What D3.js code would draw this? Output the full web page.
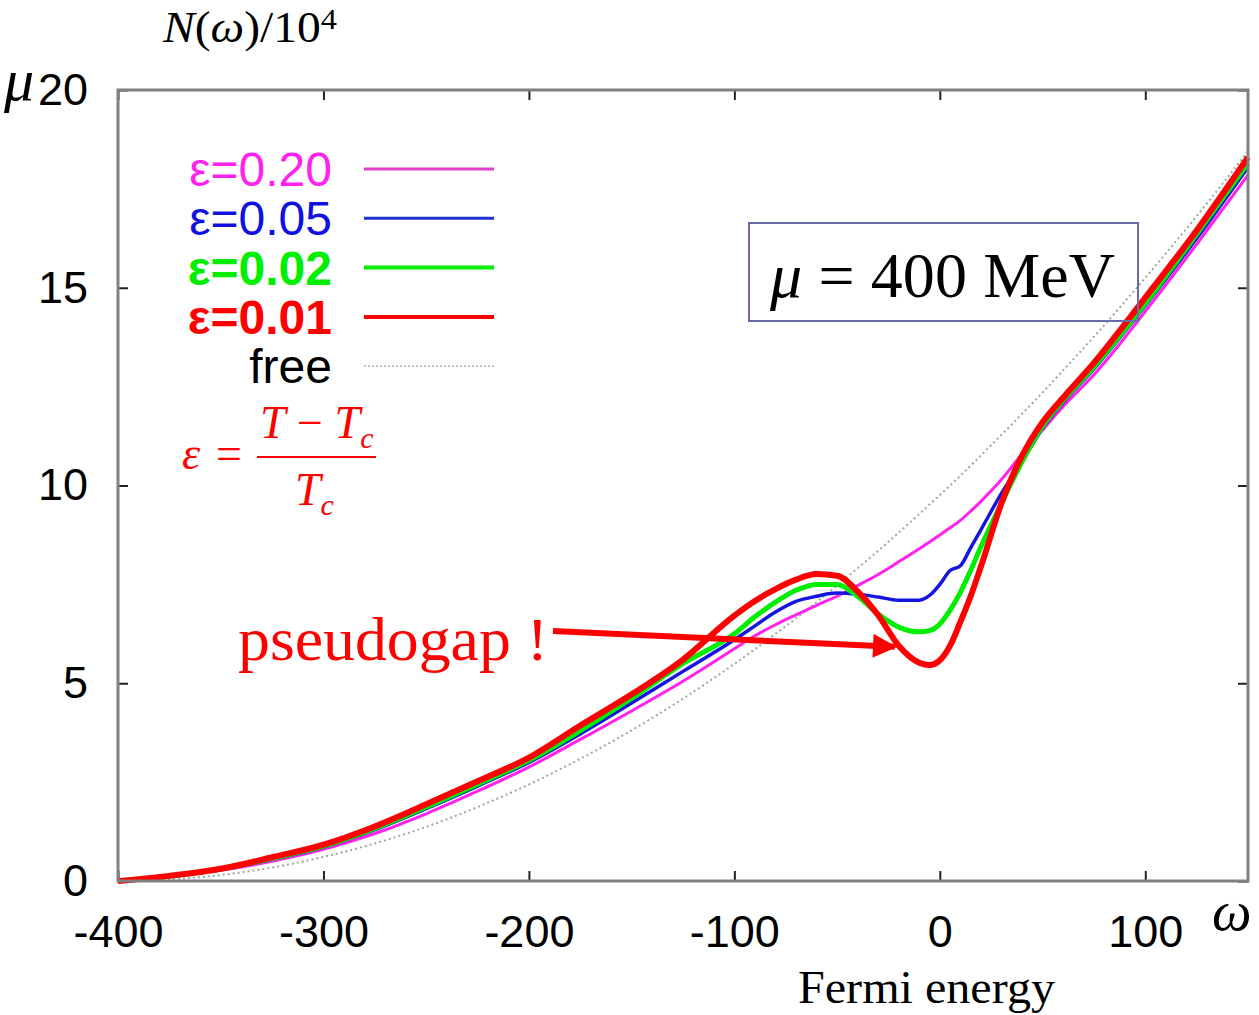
<!DOCTYPE html>
<html>
<head>
<meta charset="utf-8">
<script src="https://cdn.jsdelivr.net/npm/d3@7"></script>
<style>
  body { margin: 0; background: #fff; }
  .tick text { font-family: "Liberation Sans", Arial, sans-serif; font-size: 45px; fill: #000; }
  .serif { font-family: "Liberation Serif", "Times New Roman", serif; }
</style>
</head>
<body>
<div id="chart"></div>
<script>
// Density of states N(omega)/10^4 at mu = 400 MeV

var omega = [-400, -375, -350, -325, -300, -275, -250, -225, -200, -175, -150, -125,
  -100, -90, -80, -70, -60, -50, -40, -30, -20, -10, -5, 0,
  5, 10, 15, 20, 30, 40, 50, 60, 75, 100, 125, 150];

var eps020 = [0, 0.11, 0.27, 0.5, 0.8, 1.2, 1.7, 2.27, 2.88, 3.58, 4.3, 5.05,
  5.87, 6.2, 6.48, 6.73, 6.97, 7.2, 7.47, 7.75, 8.07, 8.4, 8.57, 8.75,
  8.93, 9.12, 9.35, 9.6, 10.15, 10.8, 11.4, 12.0, 12.8, 14.4, 16.1, 17.85];

var eps005 = [0, 0.12, 0.29, 0.55, 0.86, 1.3, 1.83, 2.4, 3.0, 3.72, 4.5, 5.3,
  6.1, 6.45, 6.8, 7.07, 7.2, 7.28, 7.25, 7.18, 7.1, 7.1, 7.22, 7.5,
  7.85, 7.97, 8.42, 8.88, 9.8, 10.6, 11.45, 12.1, 12.95, 14.55, 16.25, 18.05];

var eps002 = [0, 0.12, 0.3, 0.57, 0.88, 1.33, 1.87, 2.45, 3.05, 3.8, 4.62, 5.5,
  6.25, 6.68, 7.05, 7.35, 7.5, 7.5, 7.2, 6.75, 6.42, 6.3, 6.33, 6.5,
  6.85, 7.3, 7.85, 8.45, 9.55, 10.6, 11.5, 12.15, 13.0, 14.6, 16.35, 18.15];

var eps001 = [0, 0.13, 0.31, 0.6, 0.92, 1.38, 1.94, 2.52, 3.12, 3.93, 4.72, 5.6,
  6.71, 7.08, 7.38, 7.62, 7.76, 7.72, 7.32, 6.72, 5.95, 5.52, 5.46, 5.58,
  5.95, 6.55, 7.2, 7.95, 9.55, 10.75, 11.6, 12.22, 13.1, 14.75, 16.45, 18.3];

var freeN = [0, 0.04, 0.15, 0.34, 0.61, 0.95, 1.37, 1.87, 2.44, 3.09, 3.81, 4.61,
  5.49, 5.86, 6.25, 6.64, 7.05, 7.47, 7.91, 8.35, 8.81, 9.28, 9.52, 9.76,
  10.0, 10.25, 10.5, 10.76, 11.28, 11.81, 12.35, 12.91, 13.76, 15.25, 16.81, 18.45];

var seriesNames = ["ε=0.20", "ε=0.05", "ε=0.02", "ε=0.01", "free"];
var xTicks = [-400, -300, -200, -100, 0, 100];
var yTicks = [0, 5, 10, 15, 20];

var svgWidth = 1259;
var svgHeight = 1015;

var svg = d3.select("#chart")
  .append("svg")
  .attr("width", svgWidth)
  .attr("height", svgHeight);

var x = d3.scaleLinear().domain([-400, 150]).range([118, 1248]);
var y = d3.scaleLinear().domain([0, 20]).range([881, 90]);

// axes, ticks pointing inward
svg.append("g")
  .attr("transform", "translate(0,881)")
  .call(d3.axisBottom(x).tickValues(xTicks).tickSize(-10).tickPadding(34).tickFormat(d => String(d)));

svg.append("g")
  .attr("transform", "translate(0,90)")
  .call(d3.axisTop(x).tickValues(xTicks).tickSize(-10).tickFormat(""));

svg.append("g")
  .attr("transform", "translate(118,0)")
  .call(d3.axisLeft(y).tickValues(yTicks).tickSize(-10).tickPadding(30));

svg.append("g")
  .attr("transform", "translate(1248,0)")
  .call(d3.axisRight(y).tickValues(yTicks).tickSize(-10).tickFormat(""));

svg.selectAll(".domain").remove();
svg.selectAll(".tick line").attr("stroke", "#222").attr("stroke-width", 2);

// curves
var styles = [
  { data: freeN, color: "#9aab9a", width: 2, dash: "2,3" },
  { data: eps020, color: "#ff22ee", width: 3, dash: null },
  { data: eps005, color: "#1515e0", width: 3.5, dash: null },
  { data: eps002, color: "#00ee00", width: 5, dash: null },
  { data: eps001, color: "#ff0000", width: 6, dash: null }
];

var line = d3.line()
  .x(function(d, i) { return x(omega[i]); })
  .y(function(d) { return y(d); })
  .curve(d3.curveMonotoneX);

svg.append("g").selectAll("path")
  .data(styles)
  .enter()
  .append("path")
  .attr("d", d => line(d.data))
  .attr("fill", "none")
  .attr("stroke", d => d.color)
  .attr("stroke-width", d => d.width)
  .attr("stroke-dasharray", d => d.dash)
  .attr("stroke-linejoin", "round");

// frame
svg.append("rect")
  .attr("x", x(-400))
  .attr("y", y(20))
  .attr("width", x(150) - x(-400))
  .attr("height", y(0) - y(20))
  .attr("fill", "none")
  .attr("stroke", "#808080")
  .attr("stroke-width", 3);

// legend
var legend = [
  { name: seriesNames[0], color: "#ff22ee", line: "#e040c8", width: 3, weight: "normal", dash: null },
  { name: seriesNames[1], color: "#1010e0", line: "#2030d0", width: 3, weight: "normal", dash: null },
  { name: seriesNames[2], color: "#00ee00", line: "#00ee00", width: 4, weight: "bold", dash: null },
  { name: seriesNames[3], color: "#ff0000", line: "#ff0000", width: 4, weight: "bold", dash: null },
  { name: seriesNames[4], color: "#000000", line: "#a8b8a8", width: 1.5, weight: "normal", dash: "2,2" }
];

var lg = svg.append("g").selectAll("g")
  .data(legend)
  .enter()
  .append("g")
  .attr("transform", (d, i) => `translate(0, ${169 + i * 49.3})`);

lg.append("text")
  .attr("x", 332)
  .attr("y", 17)
  .attr("text-anchor", "end")
  .style("font-family", "'Liberation Sans', Arial, sans-serif")
  .style("font-size", "48px")
  .style("font-weight", d => d.weight)
  .attr("fill", d => d.color)
  .text(d => d.name);

lg.append("line")
  .attr("x1", 364).attr("x2", 494)
  .attr("y1", 0).attr("y2", 0)
  .attr("stroke", d => d.line)
  .attr("stroke-width", d => d.width)
  .attr("stroke-dasharray", d => d.dash);

// epsilon definition
var frac = svg.append("g").attr("class", "serif").attr("fill", "#ff0000")
  .style("font-size", "46px").style("font-style", "italic");
frac.append("text").attr("x", 182).attr("y", 469).text("ε");
frac.append("text").attr("x", 216).attr("y", 469).style("font-style", "normal").text("=");
var num = frac.append("text").attr("x", 260).attr("y", 438);
num.append("tspan").text("T");
num.append("tspan").style("font-style", "normal").text(" − ");
num.append("tspan").text("T");
num.append("tspan").attr("dy", 10).style("font-size", "30px").text("c");
var den = frac.append("text").attr("x", 295).attr("y", 505);
den.append("tspan").text("T");
den.append("tspan").attr("dy", 10).style("font-size", "30px").text("c");
frac.append("line")
  .attr("x1", 257).attr("x2", 376)
  .attr("y1", 457).attr("y2", 457)
  .attr("stroke", "#ff0000").attr("stroke-width", 2);

// mu = 400 MeV box
svg.append("rect")
  .attr("x", 749).attr("y", 223)
  .attr("width", 389).attr("height", 98)
  .attr("fill", "none")
  .attr("stroke", "#6a6aa8")
  .attr("stroke-width", 2);

var muText = svg.append("text").attr("class", "serif")
  .attr("x", 770).attr("y", 297)
  .attr("textLength", 345)
  .attr("lengthAdjust", "spacing")
  .style("font-size", "64px");
muText.append("tspan").style("font-style", "italic").text("μ");
muText.append("tspan").text(" = 400 MeV");

// pseudogap annotation
svg.append("text").attr("class", "serif")
  .attr("x", 238).attr("y", 660)
  .attr("textLength", 310)
  .attr("lengthAdjust", "spacingAndGlyphs")
  .attr("fill", "#ff0000")
  .style("font-size", "62px")
  .text("pseudogap !");

svg.append("defs").append("marker")
  .attr("id", "arrow")
  .attr("viewBox", "0 0 10 10")
  .attr("refX", 9).attr("refY", 5)
  .attr("markerWidth", 5).attr("markerHeight", 4)
  .attr("orient", "auto")
  .append("path")
  .attr("d", "M0,0 L10,5 L0,10 Z")
  .attr("fill", "#ff0000");

svg.append("line")
  .attr("x1", x(-188.3)).attr("y1", y(6.32))
  .attr("x2", x(-22)).attr("y2", y(5.92))
  .attr("stroke", "#ff0000")
  .attr("stroke-width", 6)
  .attr("marker-end", "url(#arrow)");

// axis titles
var topLabel = svg.append("text").attr("class", "serif")
  .attr("x", 163).attr("y", 42)
  .attr("textLength", 174)
  .attr("lengthAdjust", "spacingAndGlyphs")
  .style("font-size", "44px");
topLabel.append("tspan").style("font-style", "italic").text("N");
topLabel.append("tspan").text("(");
topLabel.append("tspan").style("font-style", "italic").text("ω");
topLabel.append("tspan").text(")/10");
topLabel.append("tspan").attr("dy", -13).style("font-size", "30px").text("4");

svg.append("text").attr("class", "serif")
  .attr("x", 4).attr("y", 100)
  .style("font-size", "60px").style("font-style", "italic")
  .text("μ");

svg.append("text").attr("class", "serif")
  .attr("x", 1212).attr("y", 930)
  .style("font-size", "56px").style("font-style", "italic")
  .text("ω");

svg.append("text").attr("class", "serif")
  .attr("x", 798).attr("y", 1003)
  .attr("textLength", 257)
  .attr("lengthAdjust", "spacingAndGlyphs")
  .style("font-size", "46px")
  .text("Fermi energy");
</script>
</body>
</html>
